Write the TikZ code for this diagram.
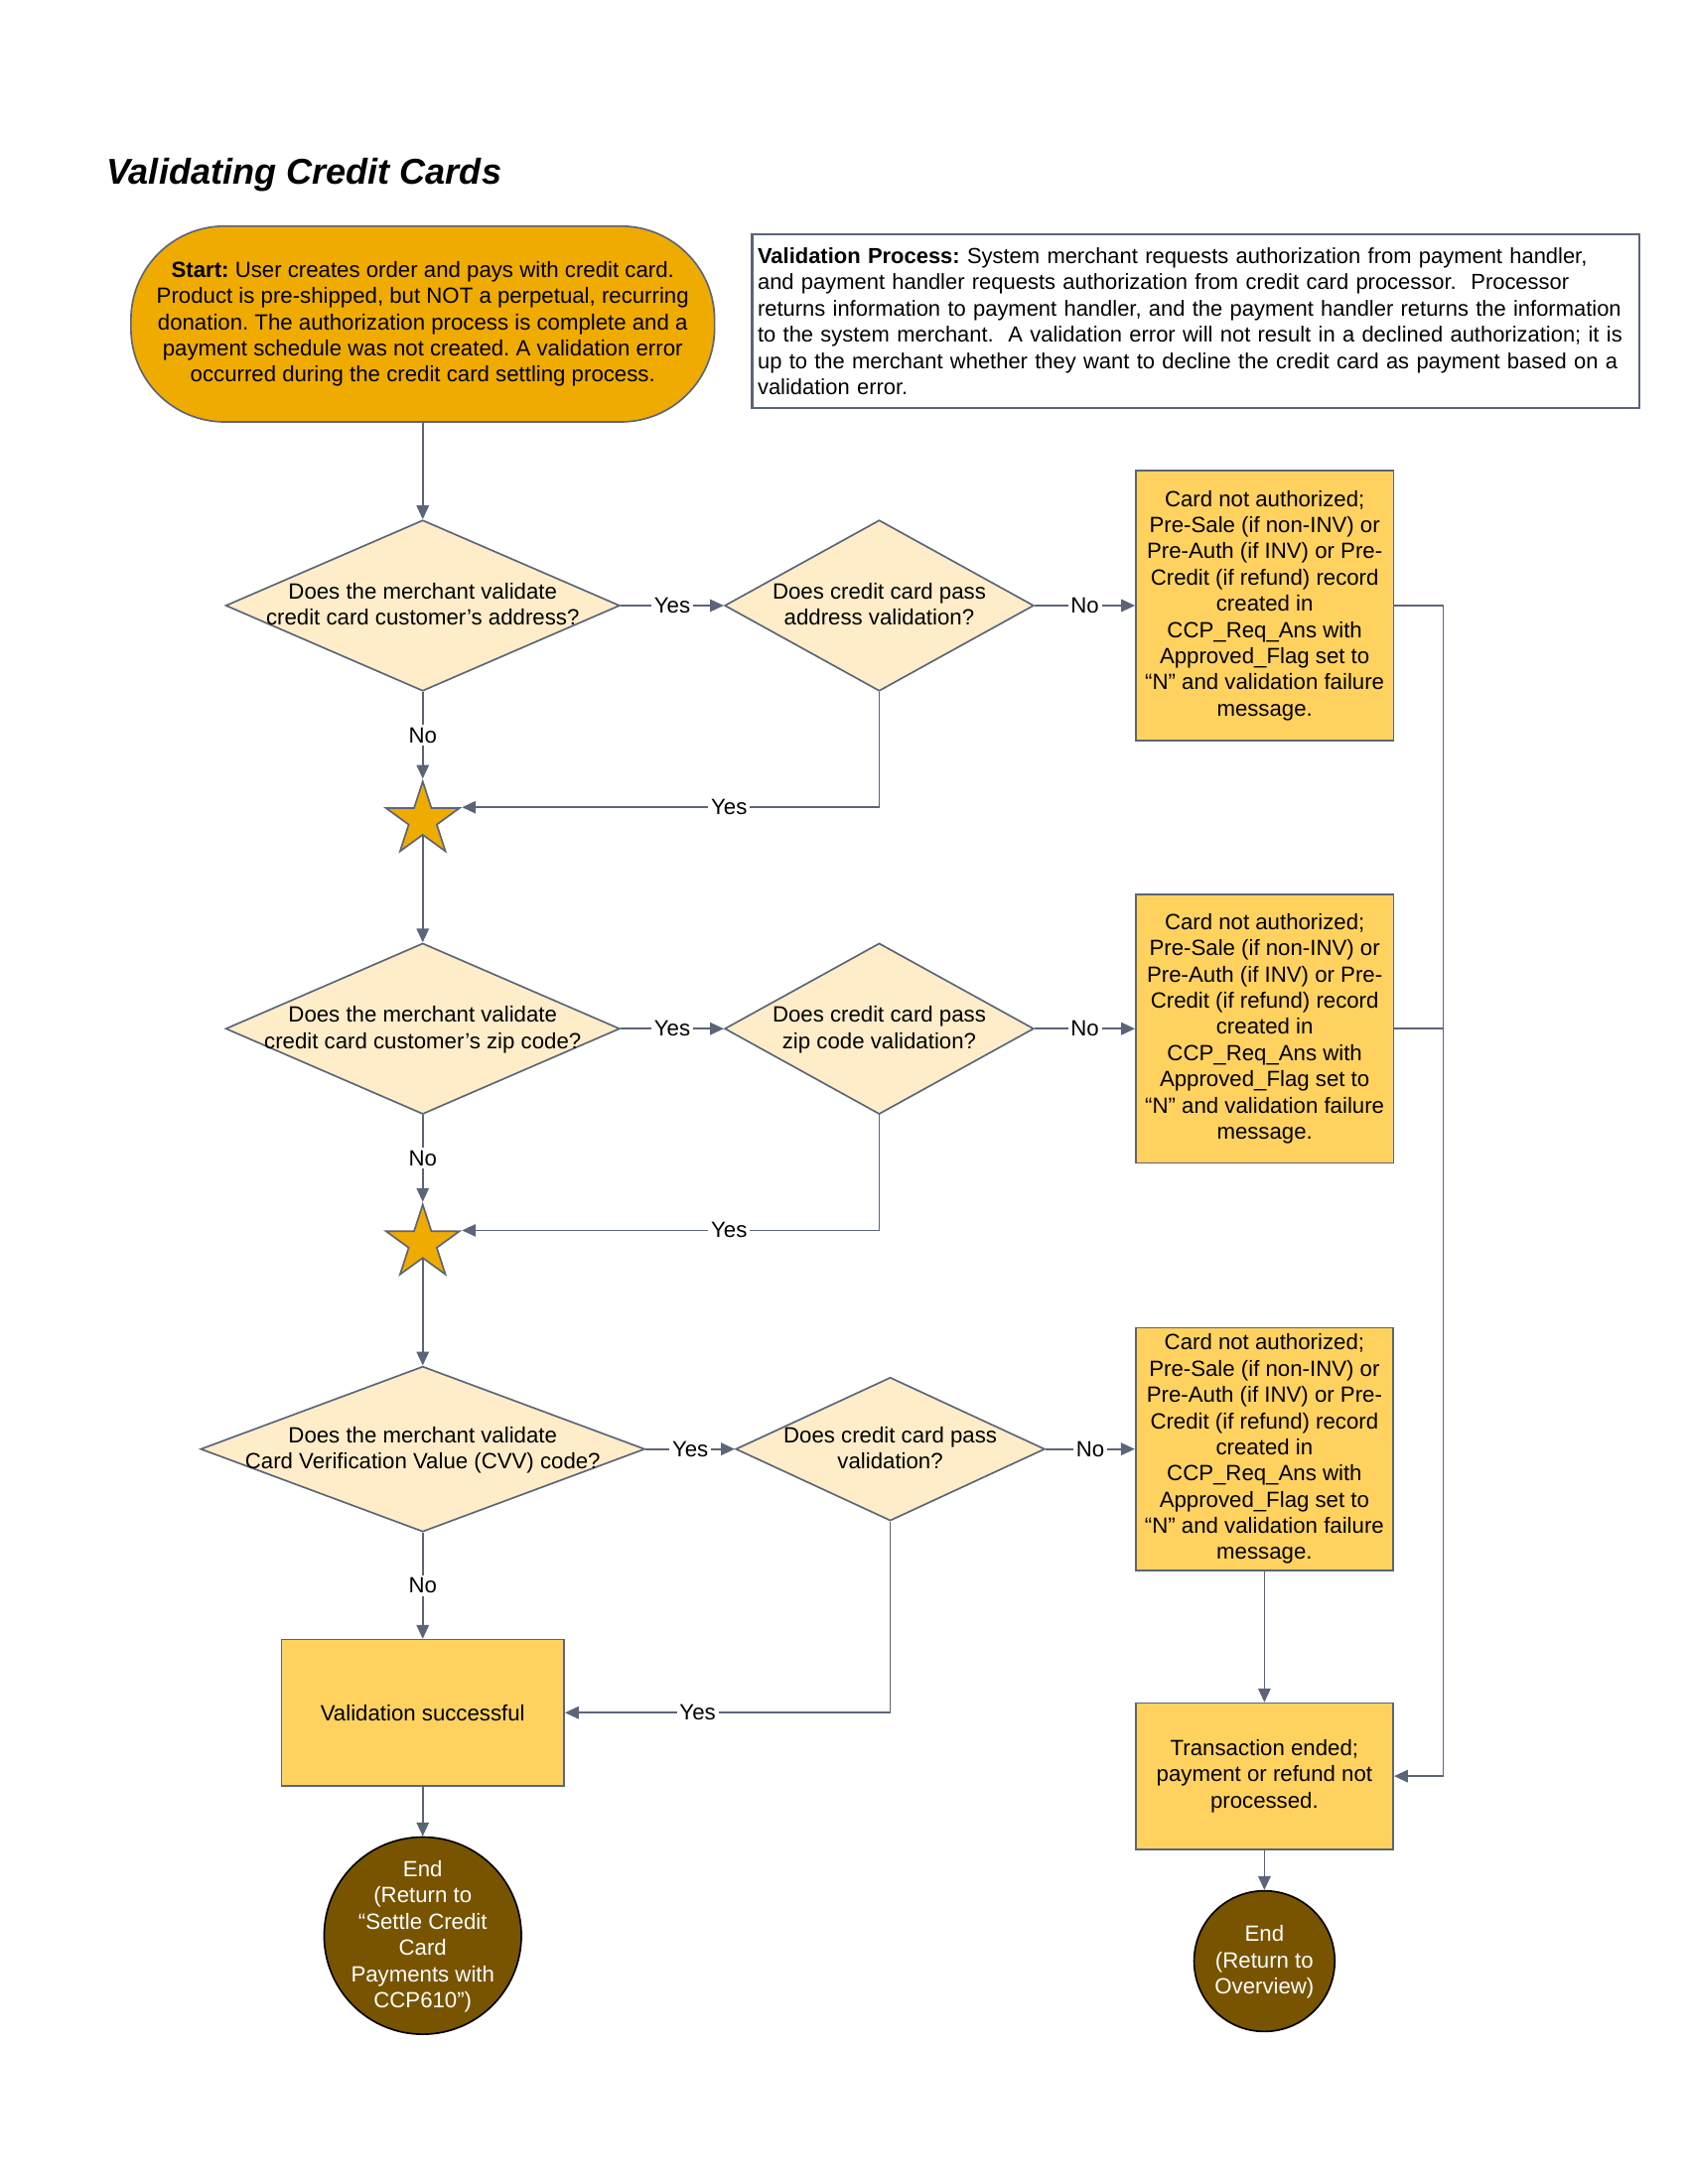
\documentclass[tikz,border=0pt]{standalone}
\usepackage{fontspec}
\setmainfont{Liberation Sans}
\usepackage{tikz}
\usetikzlibrary{shapes.geometric, arrows.meta, positioning}

\definecolor{lncol}{RGB}{92,100,122}
\definecolor{startfill}{RGB}{240,171,0}
\definecolor{boxfill}{RGB}{255,210,95}
\definecolor{dfill}{RGB}{254,237,200}
\definecolor{endfill}{RGB}{120,84,0}

% tekst i ruter uten egen storrelse
\newcommand{\dtxt}[1]{\makebox[0pt]{\smash{\raisebox{-2.5pt}{\begin{tabular}{@{}c@{}}#1\end{tabular}}}}}

\begin{document}
\frenchspacing
\begin{tikzpicture}[
      x=0.505pt, y=-0.5pt,
      font=\fontsize{8}{9.5}\selectfont,
      terminal/.style={rectangle, rounded corners=34pt, draw=lncol, fill=startfill, line width=0.6pt, minimum width=211.6pt, minimum height=71pt, align=center, inner sep=0pt},
      note/.style    ={rectangle, draw=lncol, line width=0.8pt, text width=317.7pt, minimum height=63pt, align=left, inner sep=2pt, font=\fontsize{7.9}{9.5}\selectfont},
      decision/.style={diamond, draw=lncol, fill=dfill, line width=0.6pt, inner sep=0pt},
      process/.style ={rectangle, draw=lncol, fill=boxfill, line width=0.6pt, minimum width=93.4pt, align=center, inner sep=0pt},
      junction/.style={star, star points=5, star point ratio=2.618, draw=lncol, fill=startfill, line width=0.6pt, minimum size=28pt, inner sep=0pt},
      finish/.style  ={circle, draw=black, fill=endfill, text=white, line width=0.6pt, inner sep=0pt},
      conn/.style    ={draw=lncol, line width=0.6pt},
      lbl/.style     ={fill=white, inner sep=1pt},
      >={Triangle[length=5pt, width=4.5pt]}
    ]
    \useasboundingbox (0pt,0pt) rectangle (612pt,-792pt);

    % Tittel, start og forklaring
    \node[anchor=west, inner sep=0pt, font=\fontsize{13}{15}\selectfont\bfseries\itshape] (title) at (76,127) {Validating Credit Cards};
    \node[terminal] (start) at (303.5,235) {\textbf{Start:} User creates order and pays with credit card.\\
      Product is pre-shipped, but NOT a perpetual, recurring\\
      donation. The authorization process is complete and a\\
      payment schedule was not created. A validation error\\
      occurred during the credit card settling process.};
    \node[note] (vproc) at (858.5,233) {\textbf{Validation Process:} System merchant requests authorization from payment handler,\\
      and payment handler requests authorization from credit card processor.~ Processor\\
      returns information to payment handler, and the payment handler returns the information\\
      to the system merchant.~ A validation error will not result in a declined authorization; it is\\
      up to the merchant whether they want to decline the credit card as payment based on a\\
      validation error.};

    % Adresse
    \node[decision, minimum width=142.9pt, minimum height=62pt, below=35pt of start] (d1) {\dtxt{Does the merchant validate\\ credit card customer’s address?}};
    \node[decision, minimum width=112.1pt, minimum height=62pt, right=37.4pt of d1] (d2) {\dtxt{Does credit card pass\\ address validation?}};
    \node[process, minimum height=98pt, right=36.4pt of d2] (fail1) {Card not authorized;\\ Pre-Sale (if non-INV) or\\ Pre-Auth (if INV) or Pre-\\ Credit (if refund) record\\ created in\\ CCP\_Req\_Ans with\\ Approved\_Flag set to\\ “N” and validation failure\\ message.};
    \node[junction, below=31.5pt of d1] (star1) {};

    \draw[conn, ->] (start) -- (d1);
    \draw[conn, ->] (d1) -- node[lbl] {Yes} (d2);
    \draw[conn, ->] (d2) -- node[lbl] {No} (fail1);
    \draw[conn, ->] (d1.south) -- node[lbl] {No} (star1.north);
    \draw[conn, ->] (d2.south) |- node[lbl, pos=0.68] {Yes} (star1.outer point 5);

    % Postnummer
    \node[decision, minimum width=142.9pt, minimum height=62pt, below=38.65pt of star1] (d3) {\dtxt{Does the merchant validate\\ credit card customer’s zip code?}};
    \node[decision, minimum width=112.1pt, minimum height=62pt, right=37.4pt of d3] (d4) {\dtxt{Does credit card pass\\ zip code validation?}};
    \node[process, minimum height=97.5pt, right=36.4pt of d4] (fail2) {Card not authorized;\\ Pre-Sale (if non-INV) or\\ Pre-Auth (if INV) or Pre-\\ Credit (if refund) record\\ created in\\ CCP\_Req\_Ans with\\ Approved\_Flag set to\\ “N” and validation failure\\ message.};
    \node[junction, below=31.5pt of d3] (star2) {};

    \draw[conn, ->] (star1) -- (d3);
    \draw[conn, ->] (d3) -- node[lbl] {Yes} (d4);
    \draw[conn, ->] (d4) -- node[lbl] {No} (fail2);
    \draw[conn, ->] (d3.south) -- node[lbl] {No} (star2.north);
    \draw[conn, ->] (d4.south) |- node[lbl, pos=0.68] {Yes} (star2.outer point 5);

    % CVV
    \node[decision, minimum width=161.1pt, minimum height=60pt, below=38.65pt of star2] (d5) {\dtxt{Does the merchant validate\\ Card Verification Value (CVV) code?}};
    \node[decision, minimum width=112.1pt, minimum height=52pt, right=32.3pt of d5] (d6) {\dtxt{Does credit card pass\\ validation?}};
    \node[process, minimum height=88pt, right=32.3pt of d6] (fail3) {Card not authorized;\\ Pre-Sale (if non-INV) or\\ Pre-Auth (if INV) or Pre-\\ Credit (if refund) record\\ created in\\ CCP\_Req\_Ans with\\ Approved\_Flag set to\\ “N” and validation failure\\ message.};

    \draw[conn, ->] (star2) -- (d5);
    \draw[conn, ->] (d5) -- node[lbl] {Yes} (d6);
    \draw[conn, ->] (d6) -- node[lbl] {No} (fail3);

    % Slutt
    \node[process, minimum width=102.5pt, minimum height=53pt, below=38.5pt of d5] (succ) {Validation successful};
    \node[finish, minimum size=71.5pt, below=18pt of succ] (end1) {\dtxt{End\\ (Return to\\ “Settle Credit\\ Card\\ Payments with\\ CCP610”)}};
    \node[process, minimum height=53pt, below=47.5pt of fail3] (trans) {Transaction ended;\\ payment or refund not\\ processed.};
    \node[finish, minimum size=51pt, below=14.5pt of trans] (end2) {\dtxt{End\\ (Return to\\ Overview)}};

    \draw[conn, ->] (d5) -- node[lbl] {No} (succ);
    \draw[conn, ->] (d6.south) |- node[lbl, pos=0.796] {Yes} (succ.east);
    \draw[conn, ->] (succ) -- (end1);
    \draw[conn, ->] (fail3) -- (trans);
    \draw[conn, ->] (trans) -- (end2);
    \draw[conn, ->] (fail1.east) -- ++(17.7pt,0) |- (trans.east);
    \draw[conn] (fail2.east) -- ++(17.7pt,0);

  \end{tikzpicture}
\end{document}
